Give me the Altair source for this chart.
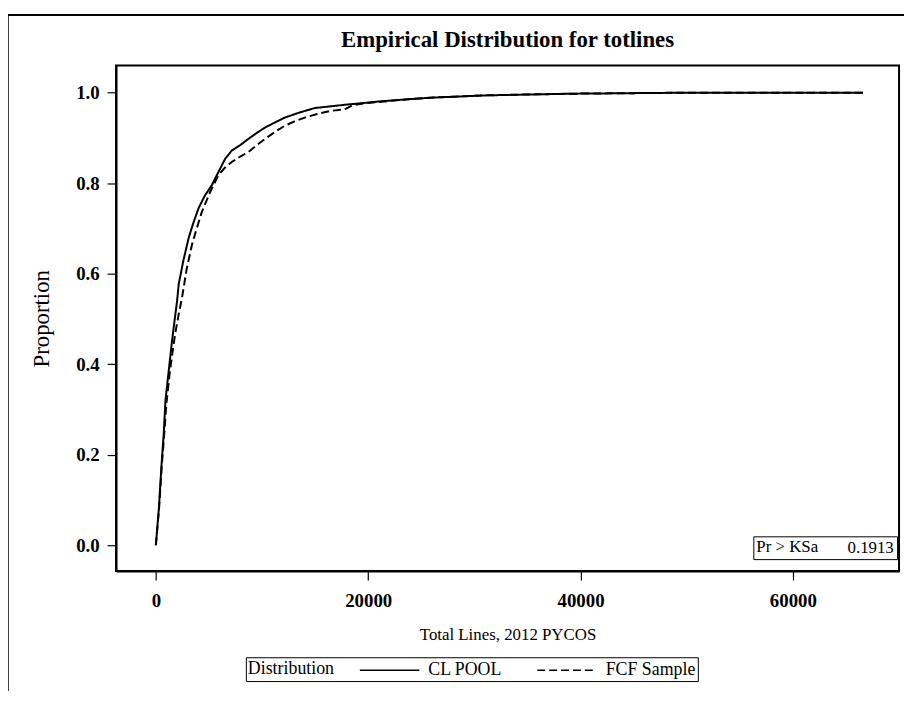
import altair as alt
import pandas as pd

# ---- data ----
pool_x = [0, 280, 530, 750, 905, 1220, 1530, 2000, 2155, 2600, 3090, 3500, 4030, 4600,
          5280, 5900, 6530, 7150, 8000, 8720, 9500, 10280, 11200, 12150, 13500, 14960,
          16500, 18090, 19500, 21210, 23500, 25900, 28000, 31000, 35000, 40000, 45000,
          50000, 55000, 60000, 66600]
pool_y = [0.0, 0.08, 0.176, 0.249, 0.32, 0.387, 0.453, 0.54, 0.577, 0.63, 0.679, 0.71,
          0.745, 0.772, 0.796, 0.825, 0.854, 0.872, 0.885, 0.898, 0.911, 0.923, 0.934,
          0.945, 0.956, 0.966, 0.970, 0.974, 0.977, 0.981, 0.985, 0.989, 0.991, 0.994,
          0.996, 0.998, 0.999, 1.0, 1.0, 1.0, 1.0]

fcf_x = [0, 300, 560, 800, 980, 1300, 1650, 1840, 2150, 2470, 2900, 3400, 3850, 4340,
         5100, 5900, 6500, 7150, 7900, 8720, 9500, 10280, 11200, 12150, 13000, 14030,
         15200, 16530, 17780, 18500, 19500, 21210, 23500, 25900, 28000, 31000, 35000,
         40000, 45000, 50000, 55000, 60000, 66600]
fcf_y = [0.0, 0.08, 0.176, 0.249, 0.31, 0.38, 0.44, 0.47, 0.51, 0.548, 0.61, 0.664,
         0.70, 0.737, 0.78, 0.818, 0.834, 0.847, 0.858, 0.869, 0.884, 0.898, 0.913,
         0.927, 0.936, 0.945, 0.953, 0.960, 0.963, 0.972, 0.976, 0.980, 0.985, 0.989,
         0.991, 0.994, 0.996, 0.998, 0.999, 1.0, 1.0, 1.0, 1.0]

series_names = ["CL POOL", "FCF Sample"]
x_ticks = [0, 20000, 40000, 60000]
y_ticks = [0.0, 0.2, 0.4, 0.6, 0.8, 1.0]
ks_label = "Pr > KSa"
ks_value = "0.1913"

rows = []
for i, (xv, yv) in enumerate(zip(pool_x, pool_y)):
    rows.append({"x": xv, "y": yv, "Distribution": series_names[0], "order": i})
for i, (xv, yv) in enumerate(zip(fcf_x, fcf_y)):
    rows.append({"x": xv, "y": yv, "Distribution": series_names[1], "order": i})
df = pd.DataFrame(rows)

FONT = "Liberation Serif"
W, H = 790, 510

lines = alt.Chart(df).mark_line(color="black", strokeWidth=2).encode(
    x=alt.X("x:Q", title="Total Lines, 2012 PYCOS",
            scale=alt.Scale(domain=[-3750, 70000], nice=False, zero=False),
            axis=alt.Axis(values=x_ticks, format="d")),
    y=alt.Y("y:Q", title="Proportion",
            scale=alt.Scale(domain=[-0.057, 1.06], nice=False, zero=False),
            axis=alt.Axis(values=y_ticks, format=".1f")),
    strokeDash=alt.StrokeDash(
        "Distribution:N",
        scale=alt.Scale(domain=series_names, range=[[1, 0], [8, 4]]),
        legend=alt.Legend(
            orient="none", legendX=131, legendY=597, direction="horizontal",
            title="Distribution", titleOrient="left", titleAnchor="middle",
            titleBaseline="middle", titleFont=FONT,
            titleFontSize=18, titleFontWeight="normal", titleColor="black",
            titlePadding=44, labelFont=FONT, labelFontSize=18, labelColor="black",
            symbolType="M-3,0H3", symbolSize=400, symbolStrokeColor="black",
            symbolStrokeWidth=1.5, columnPadding=32, labelOffset=28,
            strokeColor="black", padding=2, fillColor="white"),
    ),
    order="order:Q",
)

ks = alt.Chart(pd.DataFrame({"ks": [ks_value]})).mark_point(opacity=0).encode(
    shape=alt.Shape("ks:N", legend=alt.Legend(
        orient="none", legendX=643, legendY=475, title=ks_label, titleOrient="left",
        titleAnchor="middle", titleBaseline="middle",
        titleFont=FONT, titleFontSize=17, titleFontWeight="normal", titleColor="black",
        titlePadding=12, labelFont=FONT, labelFontSize=17, labelColor="black",
        symbolSize=0, symbolStrokeWidth=0, labelOffset=0, strokeColor="black",
        padding=3, fillColor="white")),
)

frame = alt.Chart(pd.DataFrame({"k": [0]})).mark_rule(color="black", strokeWidth=1.5).encode(
    x=alt.value(-109), y=alt.value(-51), y2=alt.value(640))
frame_top = alt.Chart(pd.DataFrame({"k": [0]})).mark_rule(color="black", strokeWidth=2).encode(
    x=alt.value(-109), x2=alt.value(800), y=alt.value(-51))

chart = alt.layer(lines, ks, frame, frame_top).properties(
    width=W, height=H,
    title=alt.TitleParams("Empirical Distribution for totlines", font=FONT, fontSize=23,
                          fontWeight="bold", color="black", anchor="middle", offset=-38,
                          frame="group"),
    autosize=alt.AutoSizeParams(type="none"),
    padding={"left": 109, "top": 55, "right": 5, "bottom": 118},
).configure_view(stroke="black", strokeWidth=2).configure_axis(
    grid=False, domainColor="black", domainWidth=2, tickColor="black", tickSize=9,
    tickWidth=1.2, labelFont=FONT, labelFontSize=19, labelFontWeight="bold",
    labelColor="black", titleFont=FONT, titleFontSize=17, titleFontWeight="normal",
    titleColor="black",
).configure_axisX(labelPadding=12, titlePadding=16).configure_axisY(
    labelPadding=8, titlePadding=22, titleFontSize=23)

chart.save("out.html", embed_options={"renderer": "svg", "actions": False})
